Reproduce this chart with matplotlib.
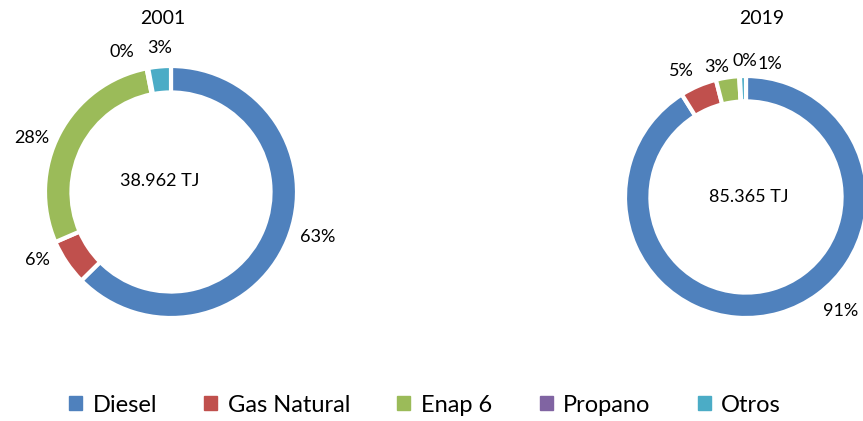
import matplotlib
matplotlib.use("Agg")
import matplotlib.pyplot as plt

plt.rcParams['font.family'] = ['Lato', 'DejaVu Sans']

# data
categories = ['Diesel', 'Gas Natural', 'Enap 6', 'Propano', 'Otros']
colors = ['#4F81BD', '#C0504D', '#9BBB59', '#8064A2', '#4BACC6']
share_2001 = [62.6, 5.9, 28.4, 0.2, 2.9]
share_2019 = [91.1, 4.9, 3.1, 0.1, 0.8]
total_2001 = '38.962 TJ'
total_2019 = '85.365 TJ'

W, H = 863, 421
fig = plt.figure(figsize=(W / 100, H / 100), dpi=100)


def donut(cx, cy, scale, values, title, total, label_pos, total_pos, title_x):
    # cx, cy in pixels from top-left, scale = pixels per data unit
    half = 1.6
    size = 2 * half * scale
    ax = fig.add_axes([(cx - half * scale) / W, (H - cy - half * scale) / H,
                       size / W, size / H])
    wedges, texts, autotexts = ax.pie(
        values, colors=colors, startangle=90, counterclock=False,
        radius=1.0, autopct='%.0f%%', pctdistance=1.2,
        wedgeprops=dict(width=0.21, edgecolor='white', linewidth=3),
        textprops=dict(fontsize=13, color='#000000'))
    for i, pos in label_pos.items():
        autotexts[i].set_position(pos)
    ax.text(total_pos[0], total_pos[1], total, ha='center', va='center', fontsize=13)
    ax.set_xlim(-half, half)
    ax.set_ylim(-half, half)
    ax.axis('off')
    fig.text(title_x / W, 1 - 19 / H, title, ha='center', va='center', fontsize=14)
    return ax


donut(171, 192, 126, share_2001, '2001', total_2001,
      label_pos={0: (1.167, -0.357), 1: (-1.063, -0.54), 2: (-1.103, 0.43),
                 3: (-0.39, 1.11), 4: (-0.087, 1.143)},
      total_pos=(-0.09, 0.09), title_x=163)

donut(746, 197, 121, share_2019, '2019', total_2019,
      label_pos={0: (0.78, -0.94), 1: (-0.53, 1.04), 2: (-0.24, 1.075),
                 3: (-0.01, 1.12), 4: (0.20, 1.10)},
      total_pos=(0.02, 0.0), title_x=762)

handles = [plt.Rectangle((0, 0), 1, 1, color=c) for c in colors]
fig.legend(handles, categories, loc='center', bbox_to_anchor=(425 / W, 1 - 405 / H),
           ncol=5, frameon=False, fontsize=17, handlelength=0.55, handleheight=0.55,
           handletextpad=0.45, columnspacing=2.0)

fig.savefig('out.png', dpi=100)
